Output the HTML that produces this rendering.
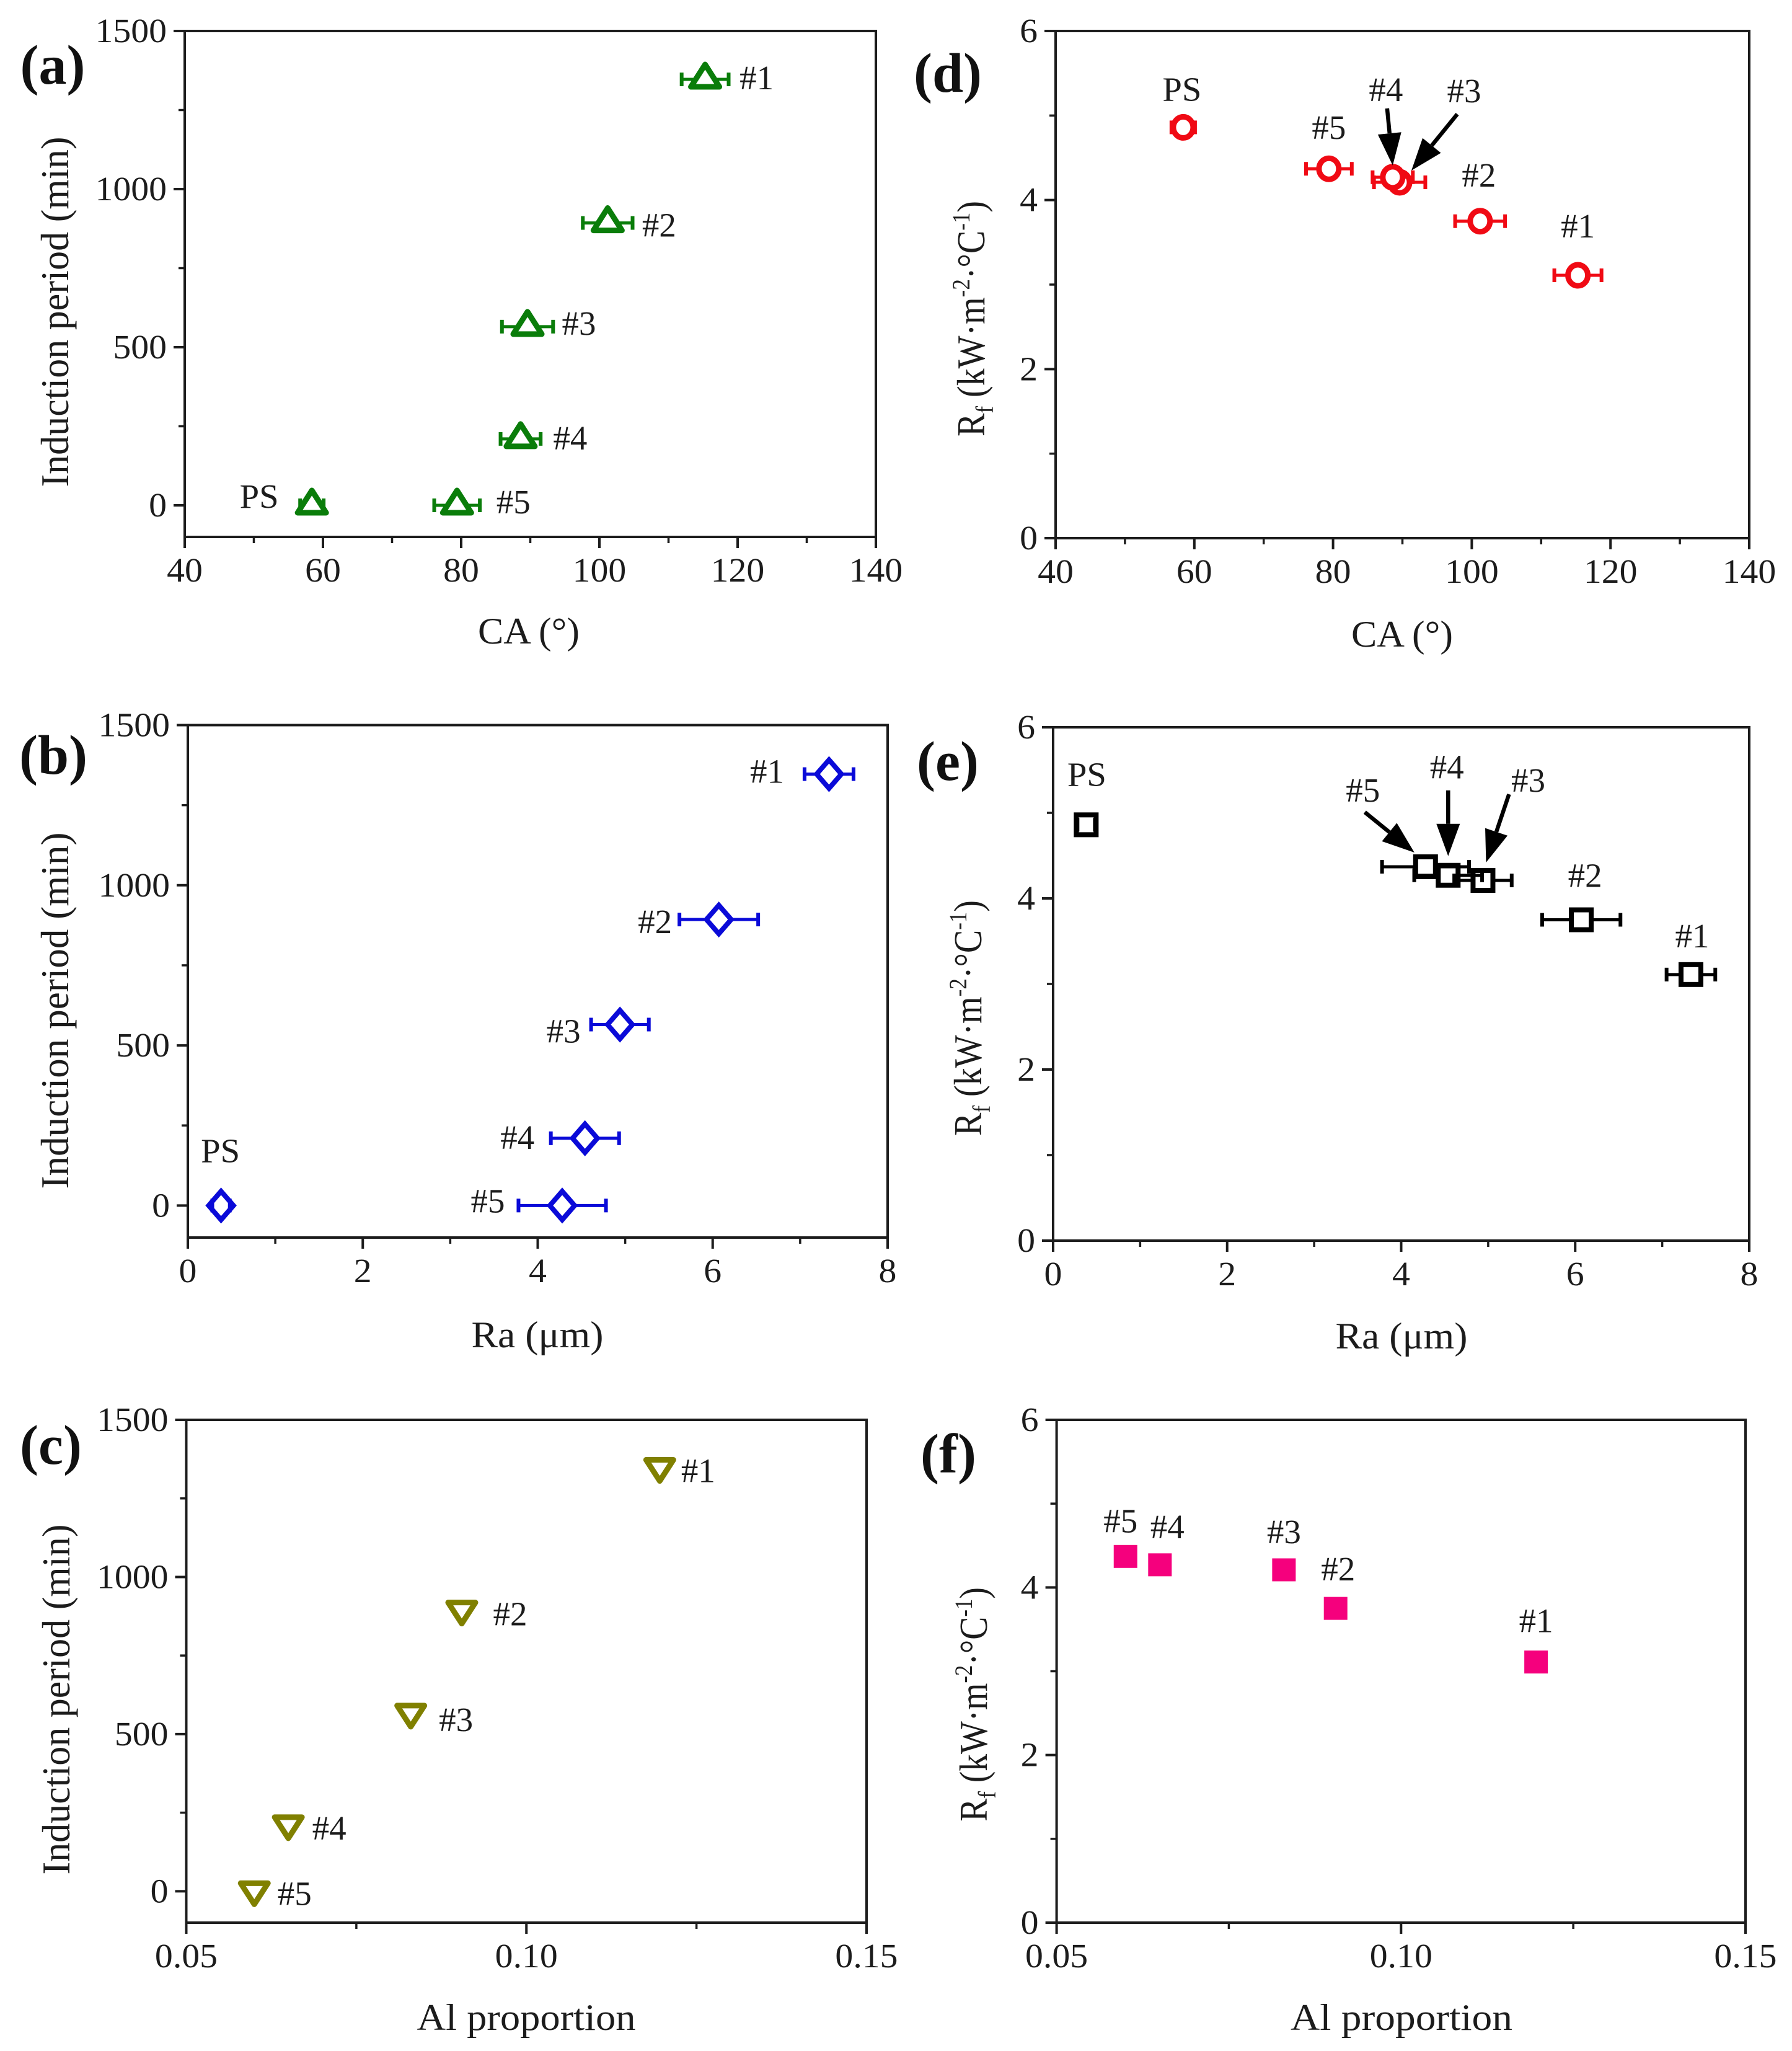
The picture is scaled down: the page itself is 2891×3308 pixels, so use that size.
<!DOCTYPE html>
<html lang="en">
<head>
<meta charset="utf-8">
<title>Induction period and fouling resistance versus surface properties</title>
<style>
  html, body { margin: 0; padding: 0; background: #fff; }
  svg { display: block; }
  text { font-family: "Liberation Serif", serif; fill: #1c1c1c; }
  .letter { font-size: 90px; font-weight: bold; fill: #111; }
  .xtitle { font-size: 60px; text-anchor: middle; }
  .ytitle { font-size: 64px; text-anchor: middle; }
  .sm { font-size: 40px; }
</style>
</head>
<body>
<svg id="figure" xmlns="http://www.w3.org/2000/svg" width="2891" height="3308" viewBox="0 0 2891 3308">
  <rect width="2891" height="3308" fill="#ffffff"/>

  <g id="panel-a">
    <text class="letter" x="85" y="135" text-anchor="middle">(a)</text>
    <text class="xtitle" x="853" y="1038" textLength="164" lengthAdjust="spacingAndGlyphs">CA (°)</text>
    <text class="ytitle" transform="translate(110,503) rotate(-90)" textLength="565" lengthAdjust="spacingAndGlyphs">Induction period (min)</text>
  </g>
  <g id="panel-b">
    <text class="letter" x="86" y="1248" text-anchor="middle">(b)</text>
    <text class="xtitle" x="867" y="2173" textLength="213" lengthAdjust="spacingAndGlyphs">Ra (μm)</text>
    <text class="ytitle" transform="translate(110,1630) rotate(-90)" textLength="575" lengthAdjust="spacingAndGlyphs">Induction period (min)</text>
  </g>
  <g id="panel-c">
    <text class="letter" x="82" y="2361" text-anchor="middle">(c)</text>
    <text class="xtitle" x="849" y="3274" textLength="353" lengthAdjust="spacingAndGlyphs">Al proportion</text>
    <text class="ytitle" transform="translate(112,2741) rotate(-90)" textLength="565" lengthAdjust="spacingAndGlyphs">Induction period (min)</text>
  </g>
  <g id="panel-d">
    <text class="letter" x="1529" y="148" text-anchor="middle">(d)</text>
    <text class="xtitle" x="2262" y="1043" textLength="164" lengthAdjust="spacingAndGlyphs">CA (°)</text>
    <text class="ytitle" transform="translate(1588,514) rotate(-90) scale(.875,1)">R<tspan class="sm" dy="14">f</tspan><tspan dy="-14"> (kW·m</tspan><tspan class="sm" dy="-24">-2</tspan><tspan dy="24">·°C</tspan><tspan class="sm" dy="-24">-1</tspan><tspan dy="24">)</tspan></text>
  </g>
  <g id="panel-e">
    <text class="letter" x="1529" y="1258" text-anchor="middle">(e)</text>
    <text class="xtitle" x="2261" y="2175" textLength="213" lengthAdjust="spacingAndGlyphs">Ra (μm)</text>
    <text class="ytitle" transform="translate(1583,1642) rotate(-90) scale(.875,1)">R<tspan class="sm" dy="14">f</tspan><tspan dy="-14"> (kW·m</tspan><tspan class="sm" dy="-24">-2</tspan><tspan dy="24">·°C</tspan><tspan class="sm" dy="-24">-1</tspan><tspan dy="24">)</tspan></text>
  </g>
  <g id="panel-f">
    <text class="letter" x="1530" y="2375" text-anchor="middle">(f)</text>
    <text class="xtitle" x="2261" y="3274" textLength="358" lengthAdjust="spacingAndGlyphs">Al proportion</text>
    <text class="ytitle" transform="translate(1592,2749) rotate(-90) scale(.87,1)">R<tspan class="sm" dy="14">f</tspan><tspan dy="-14"> (kW·m</tspan><tspan class="sm" dy="-24">-2</tspan><tspan dy="24">·°C</tspan><tspan class="sm" dy="-24">-1</tspan><tspan dy="24">)</tspan></text>
  </g>
</svg>

<script>
// ---- data ----
const sampleLabels = ['#1', '#2', '#3', '#4', '#5', 'PS'];
const caValues = [115.3, 101.2, 89.6, 88.6, 79.4, 58.4];
const caErrors = [3.4, 3.6, 3.7, 2.9, 3.3, 1.7];
const raValues = [7.33, 6.07, 4.94, 4.54, 4.28, 0.38];
const raErrors = [0.28, 0.45, 0.33, 0.39, 0.50, 0.10];
const alValues = [0.1196, 0.0905, 0.083, 0.065, 0.06];
const inductionValues = [1347, 893, 565, 210, 0, 0];
const rfValues = [3.11, 3.75, 4.21, 4.27, 4.37, 4.86];

const caTicks = [40, 60, 80, 100, 120, 140];
const raTicks = [0, 2, 4, 6, 8];
const alTicks = ['0.05', '0.10', '0.15'];
const inductionTicks = [0, 500, 1000, 1500];
const rfTicks = [0, 2, 4, 6];

const NS = 'http://www.w3.org/2000/svg';
const AXIS_COLOR = '#1c1c1c';

function make(parent, tag, attrs) {
  const el = document.createElementNS(NS, tag);
  for (const k in attrs) el.setAttribute(k, attrs[k]);
  parent.appendChild(el);
  return el;
}

function scale(d0, d1, r0, r1) {
  return v => r0 + (Number(v) - d0) * (r1 - r0) / (d1 - d0);
}

function stretch(el, factor) {
  el.setAttribute('textLength', (el.getComputedTextLength() * factor).toFixed(1));
  el.setAttribute('lengthAdjust', 'spacingAndGlyphs');
}

function drawAxes(g, p, sx, sy) {
  const frame = make(g, 'rect', {
    x: p.box[0], y: p.box[2], width: p.box[1] - p.box[0], height: p.box[3] - p.box[2],
    fill: 'none', stroke: AXIS_COLOR, 'stroke-width': 4
  });
  
  

  p.xTicks.forEach((t, i) => {
    const x = sx(t);
    const tick = make(g, 'line', { x1: x, x2: x, y1: p.box[3], y2: p.box[3] + 18, stroke: AXIS_COLOR, 'stroke-width': 4 });
    
    
    const label = make(g, 'text', { x: x, y: p.box[3] + 72, 'font-size': 55, 'text-anchor': 'middle' });
    label.textContent = t;
    
    
    stretch(label, 1.05);
    if (i < p.xTicks.length - 1) {
      const mx = sx((Number(t) + Number(p.xTicks[i + 1])) / 2);
      const minor = make(g, 'line', { x1: mx, x2: mx, y1: p.box[3], y2: p.box[3] + 10, stroke: AXIS_COLOR, 'stroke-width': 3.5 });
      
      
    }
  });

  p.yTicks.forEach((t, i) => {
    const y = sy(t);
    const tick = make(g, 'line', { x1: p.box[0] - 18, x2: p.box[0], y1: y, y2: y, stroke: AXIS_COLOR, 'stroke-width': 4 });
    
    
    const label = make(g, 'text', { x: p.box[0] - 29, y: y + 18, 'font-size': 55, 'text-anchor': 'end' });
    label.textContent = t;
    
    
    stretch(label, 1.05);
    if (i < p.yTicks.length - 1) {
      const my = sy((Number(t) + Number(p.yTicks[i + 1])) / 2);
      const minor = make(g, 'line', { x1: p.box[0] - 10, x2: p.box[0], y1: my, y2: my, stroke: AXIS_COLOR, 'stroke-width': 3.5 });
      
      
    }
  });
}

function drawMarker(g, shape, cx, cy, color) {
  const style = { fill: 'none', stroke: color, 'stroke-width': 9, 'stroke-linejoin': 'round' };
  let el;
  if (shape === 'triangle') {
    el = make(g, 'polygon', Object.assign({ points: `${cx},${cy - 24} ${cx - 23},${cy + 12} ${cx + 23},${cy + 12}` }, style));
  } else if (shape === 'triangle-down') {
    el = make(g, 'polygon', Object.assign({ points: `${cx - 22},${cy - 13} ${cx + 22},${cy - 13} ${cx},${cy + 21}` }, style));
  } else if (shape === 'diamond') {
    el = make(g, 'polygon', Object.assign({ points: `${cx},${cy - 23} ${cx + 20},${cy} ${cx},${cy + 23} ${cx - 20},${cy}` }, style, { 'stroke-width': 8, 'stroke-linejoin': 'miter' }));
  } else if (shape === 'circle') {
    el = make(g, 'ellipse', Object.assign({ cx: cx, cy: cy, rx: 16, ry: 17 }, style, { fill: '#ffffff' }));
  } else if (shape === 'square') {
    el = make(g, 'rect', Object.assign({ x: cx - 16, y: cy - 16, width: 32, height: 32 }, style, { 'stroke-width': 8, 'stroke-linejoin': 'miter' }));
  } else {
    el = make(g, 'rect', { x: cx - 19, y: cy - 18.5, width: 38, height: 37, fill: color });
  }
  return el;
}

function drawArrow(g, tipX, tipY, tailX, tailY) {
  const dx = tipX - tailX, dy = tipY - tailY;
  const len = Math.hypot(dx, dy), ux = dx / len, uy = dy / len;
  const baseX = tipX - ux * 52, baseY = tipY - uy * 52;
  const shaft = make(g, 'line', { x1: tailX, y1: tailY, x2: baseX, y2: baseY, stroke: '#000', 'stroke-width': 6.5 });
  
  
  const px = -uy, py = ux;
  const head = make(g, 'polygon', {
    points: `${tipX},${tipY} ${baseX + px * 19},${baseY + py * 19} ${baseX - px * 19},${baseY - py * 19}`,
    fill: '#000'
  });
  
  
}

function drawPanel(p) {
  const g = document.getElementById(p.id);
  const sx = scale(p.xDomain[0], p.xDomain[1], p.box[0], p.box[1]);
  const sy = scale(p.yDomain[0], p.yDomain[1], p.box[3], p.box[2]);
  drawAxes(g, p, sx, sy);

  p.x.forEach((xv, i) => {
    const cx = sx(xv), cy = sy(p.y[i]);
    if (p.xErr) {
      const e0 = sx(xv - p.xErr[i]), e1 = sx(xv + p.xErr[i]);
      [e0, e1].forEach(end => {
        const inner = end < cx ? Math.max(end, cx - p.gap) : Math.min(end, cx + p.gap);
        const whisker = make(g, 'line', { x1: end, x2: inner, y1: cy, y2: cy, stroke: p.color, 'stroke-width': 5 });
        
        
        const cap = make(g, 'line', { x1: end, x2: end, y1: cy - 11, y2: cy + 11, stroke: p.color, 'stroke-width': 6 });
        
        
      });
    }
    const marker = drawMarker(g, p.shape, cx, cy, p.color);
    
    

    const off = p.labelOffsets[i];
    const label = make(g, 'text', { x: cx + off[0], y: cy + off[1] + 18, 'font-size': 55, 'text-anchor': 'middle' });
    label.textContent = sampleLabels[i];
    
    
    if (sampleLabels[i] === 'PS') stretch(label, 1.03);
  });

  (p.arrows || []).forEach(a => {
    const cx = sx(p.x[a.sample]), cy = sy(p.y[a.sample]);
    drawArrow(g, cx + a.tip[0], cy + a.tip[1], cx + a.tail[0], cy + a.tail[1]);
  });
}

const inductionDomain = [-100, 1500];
const rfDomain = [0, 6];

[
  { id: 'panel-a', box: [298, 1413, 50, 866], xDomain: [40, 140], yDomain: inductionDomain,
    x: caValues, xErr: caErrors, y: inductionValues, xTicks: caTicks, yTicks: inductionTicks,
    color: '#0a7d0a', shape: 'triangle', gap: 15,
    labelOffsets: [[83, -2], [83, 4], [83, -5], [80, -1], [91, -5], [-85, -14]] },
  { id: 'panel-b', box: [303, 1432, 1169.5, 1996], xDomain: [0, 8], yDomain: inductionDomain,
    x: raValues, xErr: raErrors, y: inductionValues, xTicks: raTicks, yTicks: inductionTicks,
    color: '#0a0ad8', shape: 'diamond', gap: 20,
    labelOffsets: [[-100, -4], [-103, 4], [-91, 11], [-109, -1], [-120, -7], [-1, -88]] },
  { id: 'panel-c', box: [300.5, 1398, 2290, 3101], xDomain: [0.05, 0.15], yDomain: inductionDomain,
    x: alValues, y: inductionValues, xTicks: alTicks, yTicks: inductionTicks,
    color: '#808000', shape: 'triangle-down', gap: 0,
    labelOffsets: [[62, 5], [78, 6], [73, 10], [66, 5], [65, 4]] },
  { id: 'panel-d', box: [1703, 2822, 50, 868], xDomain: [40, 140], yDomain: rfDomain,
    x: caValues, xErr: caErrors, y: rfValues, xTicks: caTicks, yTicks: rfTicks,
    color: '#f00a14', shape: 'circle', gap: 16,
    labelOffsets: [[0, -79], [-2, -74], [104, -147], [-11, -141], [0, -66], [-2, -61]],
    arrows: [{ sample: 3, tip: [0, -19], tail: [-9, -111] }, { sample: 2, tip: [19, -19], tail: [93, -110] }] },
  { id: 'panel-e', box: [1699, 2822, 1173, 2001], xDomain: [0, 8], yDomain: rfDomain,
    x: raValues, xErr: raErrors, y: rfValues, xTicks: raTicks, yTicks: rfTicks,
    color: '#000000', shape: 'square', gap: 16,
    labelOffsets: [[2, -62], [6, -71], [73, -161], [-2, -174], [-101, -123], [1, -81]],
    arrows: [{ sample: 4, tip: [-18, -23], tail: [-98, -88] }, { sample: 3, tip: [0, -31], tail: [0, -137] }, { sample: 2, tip: [5, -29], tail: [42, -139] }] },
  { id: 'panel-f', box: [1704.6, 2816, 2290, 3101], xDomain: [0.05, 0.15], yDomain: rfDomain,
    x: alValues, y: rfValues, xTicks: alTicks, yTicks: rfTicks,
    color: '#f5007d', shape: 'filled-square', gap: 0,
    labelOffsets: [[0, -66], [4, -63], [0, -61], [12, -61], [-8, -57]] }
].forEach(drawPanel);
</script>
</body>
</html>
